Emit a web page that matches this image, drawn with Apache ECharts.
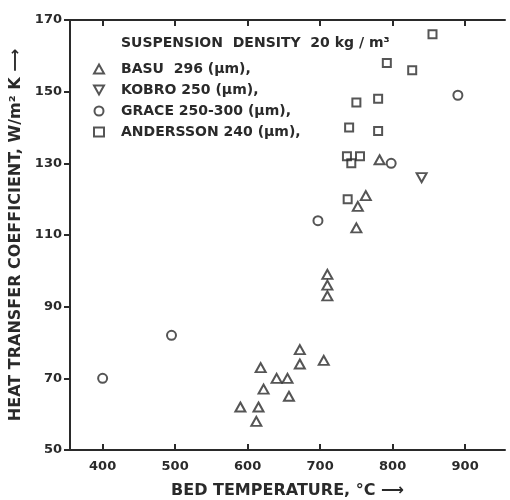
<!DOCTYPE html>
<html><head><meta charset="utf-8">
<script src="https://cdn.jsdelivr.net/npm/echarts@6/dist/echarts.min.js"></script>
<style>html,body{margin:0;padding:0;background:#fff}#c{width:510px;height:500px}</style>
</head><body><div id="c"></div>
<script>
const xTicks = [400, 500, 600, 700, 800, 900];
const yTicks = [50, 70, 90, 110, 130, 150, 170];
const basu = [[590,62],[612,58],[615,62],[618,73],[622,67],[640,70],[655,70],[657,65],[672,78],[672,74],[705,75],[710,99],[710,96],[710,93],[750,112],[752,118],[763,121],[782,131]];
const kobro = [[840,126]];
const grace = [[400,70],[495,82],[697,114],[798,130],[890,149]];
const andersson = [[737,132],[743,130],[755,132],[738,120],[740,140],[780,139],[750,147],[780,148],[792,158],[827,156],[855,166]];
const names = ['BASU  296 (μm),', 'KOBRO 250 (μm),', 'GRACE 250-300 (μm),', 'ANDERSSON 240 (μm),'];

const ink = '#2a2a2a';
const font = 'DejaVu Sans';
const downTri = 'path://M0,0 L10,0 L5,9 Z';
function ser(name, data, symbol, size) {
  return {
    name, type: 'scatter', data, symbol, symbolSize: size,
    itemStyle: { color: 'rgba(0,0,0,0)', borderColor: ink, borderWidth: 2 },
    emphasis: { disabled: true }
  };
}
const chart = echarts.init(document.getElementById('c'));
chart.setOption({
  animation: false,
  backgroundColor: '#fff',
  grid: { left: 70, right: 5, top: 20, bottom: 50, containLabel: false, outerBoundsMode: 'none' },
  title: {
    text: 'SUSPENSION  DENSITY  20 kg / m³', left: 116, top: 31,
    textStyle: { fontFamily: font, fontWeight: 'bold', fontSize: 14, color: ink }
  },
  legend: {
    orient: 'vertical', left: 88, top: 57, itemGap: 7, itemWidth: 10, itemHeight: 9,
    data: names,
    textStyle: { fontFamily: font, fontWeight: 'bold', fontSize: 14, color: ink, padding: [0,0,0,12] },
    selectedMode: false
  },
  xAxis: [{
    type: 'value', min: 355, max: 955, position: 'bottom',
    name: 'BED TEMPERATURE, °C ⟶', nameLocation: 'middle', nameGap: 33,
    nameTextStyle: { fontFamily: font, fontWeight: 'bold', fontSize: 16, color: ink },
    axisLine: { lineStyle: { color: ink, width: 2 } },
    axisTick: { inside: true, length: 6, customValues: xTicks, lineStyle: { color: ink, width: 2 } },
    axisLabel: { customValues: xTicks, margin: 10, fontFamily: font, fontWeight: 'bold', fontSize: 13, color: ink },
    splitLine: { show: false }
  }, {
    type: 'value', min: 355, max: 955, position: 'top',
    axisLine: { show: true, lineStyle: { color: ink, width: 2 } },
    axisTick: { inside: true, length: 6, customValues: xTicks, lineStyle: { color: ink, width: 2 } },
    axisLabel: { show: false },
    splitLine: { show: false }
  }],
  yAxis: {
    type: 'value', min: 50, max: 170,
    name: 'HEAT TRANSFER COEFFICIENT, W/m² K ⟶', nameLocation: 'middle', nameGap: 42, nameRotate: 90,
    nameTextStyle: { fontFamily: font, fontWeight: 'bold', fontSize: 16, color: ink },
    axisLine: { show: true, lineStyle: { color: ink, width: 2 } },
    axisTick: { show: true, inside: false, length: 6, customValues: yTicks, lineStyle: { color: ink, width: 2 } },
    axisLabel: { customValues: yTicks, margin: 8, fontFamily: font, fontWeight: 'bold', fontSize: 13, color: ink },
    splitLine: { show: false }
  },
  series: [
    ser(names[0], basu, 'triangle', [10, 9]),
    ser(names[1], kobro, downTri, [10, 9]),
    ser(names[2], grace, 'circle', 9),
    ser(names[3], andersson, 'rect', 8)
  ]
});
</script></body></html>
